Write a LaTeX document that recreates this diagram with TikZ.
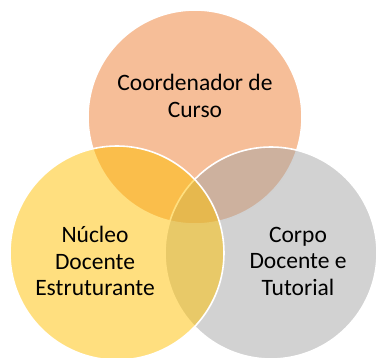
\documentclass[tikz,border=0pt]{standalone}
\usepackage{fontspec}
\setmainfont{Carlito}
\usepackage{xcolor}
\definecolor{laranja}{HTML}{ED7D31}
\definecolor{amarelo}{HTML}{FFC000}
\definecolor{cinza}{HTML}{A5A5A5}

\begin{document}
\begin{tikzpicture}[x=1pt, y=-1pt,
    conjunto/.style={fill opacity=0.5, draw=white, line width=1.6pt},
    rotulo/.style={align=center, font=\fontsize{23.5}{26.5}\selectfont, text=black}]
    % cadre
    \useasboundingbox (0,0) rectangle (377,358);
    % cercles
    \filldraw[conjunto, fill=laranja] (195,117) circle[radius=107pt];
    \filldraw[conjunto, fill=cinza] (271,253) circle[radius=106pt];
    \filldraw[conjunto, fill=amarelo] (117,253) circle[radius=107pt];
    % textes
    \node[rotulo] (coord) at (195,96) {Coordenador de\\Curso};
    \node[rotulo] (nde) at (95,261) {Núcleo\\Docente\\Estruturante};
    \node[rotulo] (corpo) at (298,261) {Corpo\\Docente e\\Tutorial};
\end{tikzpicture}
\end{document}
